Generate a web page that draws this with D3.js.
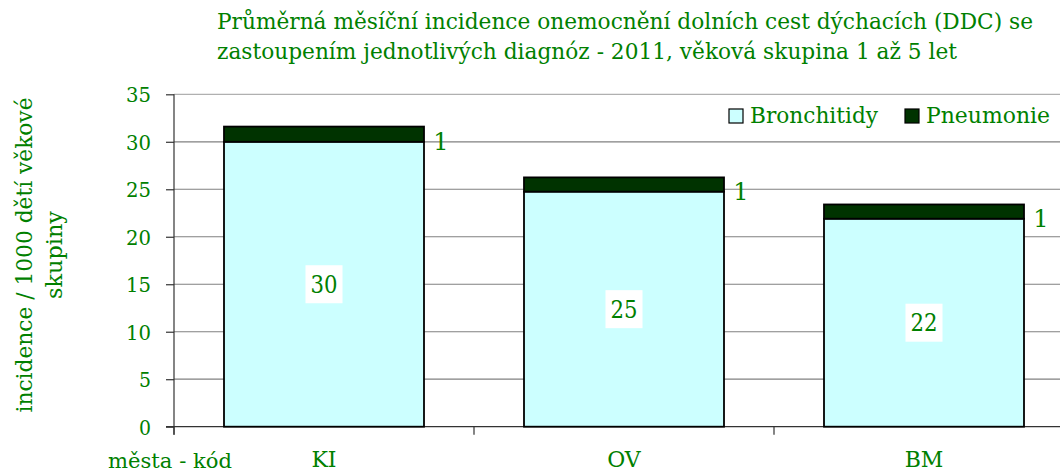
<!DOCTYPE html>
<html><head><meta charset="utf-8">
<script src="https://cdn.jsdelivr.net/npm/d3@7"></script>
<style>
body{margin:0;background:#fff;}
svg text{font-family:"DejaVu Serif","Liberation Serif",serif !important;fill:#008000;}
</style></head>
<body>
<svg id="c" width="1060" height="474"></svg>
<script>
const categories = ["KI","OV","BM"];
const seriesNames = ["Bronchitidy","Pneumonie"];
const bronchitidy = [30, 24.75, 21.9];
const pneumonie = [1.6, 1.5, 1.5];
const bronchLabels = ["30","25","22"];
const pneuLabels = ["1","1","1"];
const yTicks = [0,5,10,15,20,25,30,35];
const titleLines = ["Průměrná měsíční incidence onemocnění dolních cest dýchacích (DDC) se",
                    "zastoupením jednotlivých diagnóz - 2011, věková skupina 1 až 5 let"];
const yTitleLines = ["incidence / 1000 dětí věkové","skupiny"];
const xTitle = "města - kód";

const colors = ["#ccffff","#003300"];
const svg = d3.select("#c");
const pLeft = 174, pRight = 1074, pTop = 94.3, pBottom = 426.7;

const x = d3.scaleBand().domain(categories).range([pLeft,pRight]).paddingInner(1/3).paddingOuter(1/6);
const y = d3.scaleLinear().domain([0,35]).range([pBottom,pTop]);

// gridlines
svg.append("g").selectAll("line").data(yTicks.filter(d=>d>0)).join("line")
  .attr("x1",pLeft).attr("x2",1060).attr("y1",d=>y(d)).attr("y2",d=>y(d))
  .attr("stroke",(d)=>d===35?"#b0b0b0":"#808080").attr("stroke-width",1.2);

// y axis
const yAxis = d3.axisLeft(y).tickValues(yTicks).tickSize(8).tickPadding(15).tickFormat(d3.format("d"));
const gy = svg.append("g").attr("transform",`translate(${pLeft},0)`).call(yAxis);
gy.select(".domain").remove();
gy.selectAll(".tick line").attr("stroke","#333").attr("stroke-width",1.2);
gy.selectAll(".tick text").style("font-size","21px").attr("fill","#008000").attr("dy","0.36em")
  .attr("textLength",d=>d<10?12:25).attr("lengthAdjust","spacingAndGlyphs");
svg.append("line").attr("x1",pLeft).attr("x2",pLeft).attr("y1",pTop).attr("y2",pBottom+8)
  .attr("stroke","#333").attr("stroke-width",1.2);

// x axis
svg.append("line").attr("x1",pLeft-8).attr("x2",1060).attr("y1",pBottom).attr("y2",pBottom)
  .attr("stroke","#333").attr("stroke-width",1.2);
const bounds = categories.map((c,i)=>pLeft + i*x.step());
svg.append("g").selectAll("line").data(bounds).join("line")
  .attr("x1",d=>d).attr("x2",d=>d).attr("y1",pBottom).attr("y2",pBottom+8)
  .attr("stroke","#333").attr("stroke-width",1.2);
svg.append("g").selectAll("text").data(categories).join("text")
  .attr("x",d=>x(d)+x.bandwidth()/2).attr("y",467).attr("text-anchor","middle")
  .style("font-size","22px").text(d=>d);

// bars
const stackData = categories.map((c,i)=>({cat:c, b:bronchitidy[i], p:pneumonie[i]}));
const g = svg.append("g");
g.selectAll("rect.b").data(stackData).join("rect").attr("class","b")
  .attr("x",d=>x(d.cat)).attr("width",x.bandwidth())
  .attr("y",d=>y(d.b)).attr("height",d=>y(0)-y(d.b))
  .attr("fill",colors[0]).attr("stroke","#000").attr("stroke-width",1.8);
g.selectAll("rect.p").data(stackData).join("rect").attr("class","p")
  .attr("x",d=>x(d.cat)).attr("width",x.bandwidth())
  .attr("y",d=>y(d.b+d.p)).attr("height",d=>y(d.b)-y(d.b+d.p))
  .attr("fill",colors[1]).attr("stroke","#000").attr("stroke-width",1.8);

// labels
stackData.forEach((d,i)=>{
  const cx = x(d.cat)+x.bandwidth()/2, cy = (y(0)+y(d.b))/2;
  svg.append("rect").attr("x",cx-18.5).attr("y",cy-19).attr("width",37).attr("height",38).attr("fill","#fff");
  svg.append("text").attr("x",cx).attr("y",cy).attr("dy","0.36em").attr("text-anchor","middle")
    .style("font-size","24px").attr("textLength",27).attr("lengthAdjust","spacingAndGlyphs").text(bronchLabels[i]);
  svg.append("text").attr("x",x(d.cat)+x.bandwidth()+17).attr("y",(y(d.b)+y(d.b+d.p))/2+7).attr("dy","0.36em")
    .attr("text-anchor","middle").style("font-size","24px").text(pneuLabels[i]);
});

// legend
const legX = [729, 905], legTxtX=[750,926], legW=[128,124];
seriesNames.forEach((s,i)=>{
  svg.append("rect").attr("x",legX[i]).attr("y",109).attr("width",14).attr("height",14)
    .attr("fill",colors[i]).attr("stroke","#000").attr("stroke-width",1.2);
  svg.append("text").attr("x",legTxtX[i]).attr("y",123).style("font-size","22px")
    .attr("textLength",legW[i]).attr("lengthAdjust","spacingAndGlyphs").text(s);
});

// title
const tw = [816, 740];
titleLines.forEach((t,i)=>{
  svg.append("text").attr("x",217).attr("y",29+i*30).style("font-size","22px")
    .attr("textLength",tw[i]).attr("lengthAdjust","spacingAndGlyphs").text(t);
});

// y title
const yc = 255;
yTitleLines.forEach((t,i)=>{
  const el = svg.append("text").attr("transform",`translate(${32+i*30},${yc}) rotate(-90)`)
    .attr("text-anchor","middle").style("font-size","22px").text(t);
  el.attr("textLength",i===0?315:88).attr("lengthAdjust","spacingAndGlyphs");
});

// x title
svg.append("text").attr("x",108).attr("y",468).style("font-size","21px")
  .attr("textLength",124).attr("lengthAdjust","spacingAndGlyphs").text(xTitle);
</script>
</body></html>
